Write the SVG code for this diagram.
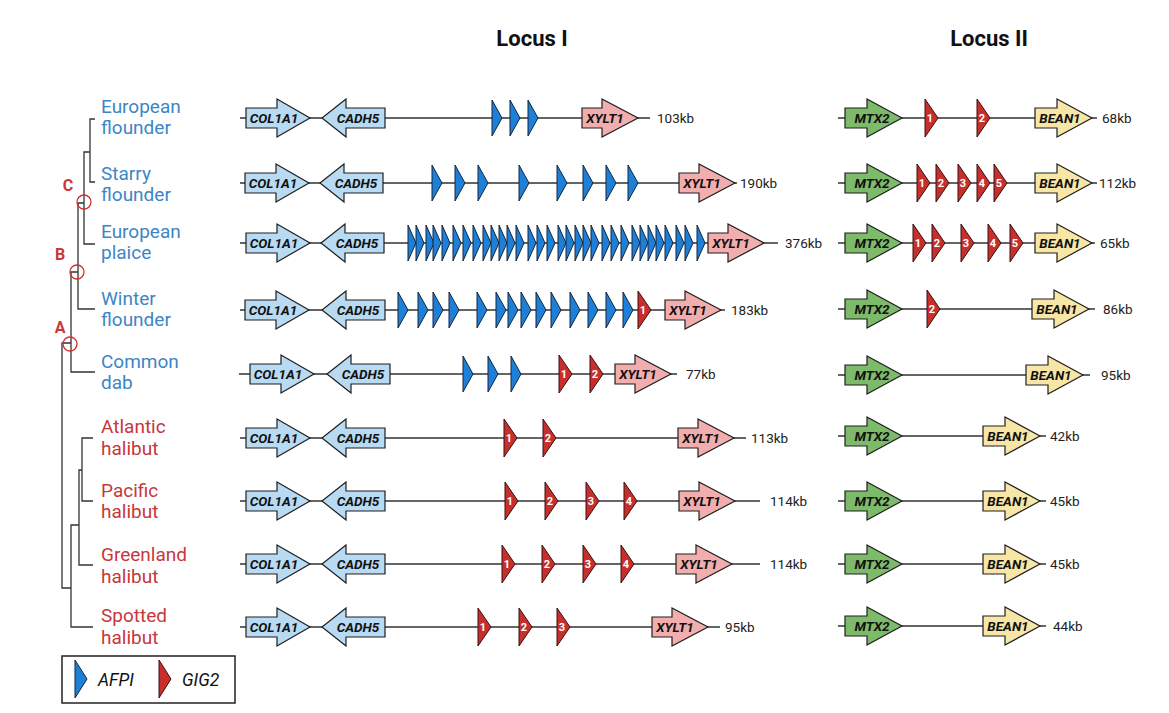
<svg xmlns="http://www.w3.org/2000/svg" xmlns:xlink="http://www.w3.org/1999/xlink" width="1169" height="713" viewBox="0 0 1169 713">
<style>
text{font-family:Roboto,"Liberation Sans",sans-serif}
.title{font-size:22px;font-weight:bold;fill:#111;text-anchor:middle}
.sp{font-size:19px}
.blue{fill:#3d85c6}
.red{fill:#c8373a}
.node{font-size:16px;font-weight:bold;fill:#c8373a;text-anchor:middle}
.tree{stroke:#333;stroke-width:1.3;fill:none}
.circ{stroke:#d03030;stroke-width:1.3;fill:none}
.bb{stroke:#333;stroke-width:1.5;fill:none}
.g{stroke:#1e1e1e;stroke-width:1.2;stroke-linejoin:miter}
.c1{fill:#b8daf2}
.x1{fill:#f2aeae}
.m2{fill:#7dbb6b}
.b1{fill:#f7e6a6}
.gl{font-size:13.5px;font-weight:bold;font-style:italic;fill:#111;text-anchor:middle}
.afp{fill:#1e7fd8;stroke:#14273a;stroke-width:1}
.gig{fill:#c62f2b;stroke:#3a1010;stroke-width:1}
.num{font-size:11px;font-weight:bold;fill:#fff;text-anchor:middle}
.kb{font-size:13.5px;fill:#222}
.leg{font-size:17.5px;font-style:italic;fill:#111}
</style>
<defs>
<path id="col" d="M0,-10 H31 V-19 L64,0 L31,19 V10 H0 Z"/>
<path id="cad" d="M63,-10 H24 V-19 L0,0 L24,19 V10 H63 Z"/>
<path id="xyl" d="M0,-10 H20 V-19 L56,0 L20,19 V10 H0 Z"/>
<path id="rar" d="M0,-10 H22 V-19 L57,0 L22,19 V10 H0 Z"/>
<path id="afp" class="afp" d="M0,-18 L10,0 L0,18 Z"/>
<path id="afn" class="afp" d="M0,-18 L8,0 L0,18 Z"/>
<path id="gig" class="gig" d="M0,-19 L13,0 L0,19 Z"/>
</defs>
<rect width="1169" height="713" fill="#fff"/>
<text class="title" x="532" y="46">Locus I</text>
<text class="title" x="989" y="46">Locus II</text>

<g id="tree">
<path class="tree" d="M95,119 H90 V182 H95 M90,152 H84 V244 H95 M84,203 H78 V309 H95 M78,272 H71 V372 H95 M71,343 H62 V588 H71 M93,438 H82 V501 H93 M82,470 H79 V565 H93 M79,525 H71 V627 H93"/>
<circle class="circ" cx="84" cy="202" r="7"/>
<circle class="circ" cx="77" cy="272" r="7"/>
<circle class="circ" cx="70" cy="344" r="7"/>
<text class="node" x="68" y="191">C</text>
<text class="node" x="60" y="260">B</text>
<text class="node" x="60" y="333">A</text>
</g>

<g id="species">
<g id="sp-european-flounder" class="blue"><text class="sp" x="101" y="113">European</text><text class="sp" x="101" y="134">flounder</text></g>
<g id="sp-starry-flounder" class="blue"><text class="sp" x="101" y="180">Starry</text><text class="sp" x="101" y="201">flounder</text></g>
<g id="sp-european-plaice" class="blue"><text class="sp" x="101" y="238">European</text><text class="sp" x="101" y="259">plaice</text></g>
<g id="sp-winter-flounder" class="blue"><text class="sp" x="101" y="305">Winter</text><text class="sp" x="101" y="326">flounder</text></g>
<g id="sp-common-dab" class="blue"><text class="sp" x="101" y="368">Common</text><text class="sp" x="101" y="389">dab</text></g>
<g id="sp-atlantic-halibut" class="red"><text class="sp" x="101" y="433">Atlantic</text><text class="sp" x="101" y="455">halibut</text></g>
<g id="sp-pacific-halibut" class="red"><text class="sp" x="101" y="497">Pacific</text><text class="sp" x="101" y="518">halibut</text></g>
<g id="sp-greenland-halibut" class="red"><text class="sp" x="101" y="561">Greenland</text><text class="sp" x="101" y="583">halibut</text></g>
<g id="sp-spotted-halibut" class="red"><text class="sp" x="101" y="622">Spotted</text><text class="sp" x="101" y="644">halibut</text></g>
</g>

<g id="connectors">
<path class="bb" d="M240,118 H650 M240,183 H737 M240,243 H778 M240,310 H725 M239,374 H677 M240,438 H746 M240,501 H760 M240,564 H760 M240,627 H720"/>
<path class="bb" d="M838,118 H1097 M838,183 H1097 M838,243 H1095 M838,309 H1095 M838,375 H1090 M838,436 H1046 M838,501 H1046 M838,564 H1046 M838,626 H1046"/>
</g>

<g id="locus1-row1" transform="translate(0,118)">
<use href="#col" x="246" class="g c1"/><text class="gl" x="274" y="5">COL1A1</text>
<use href="#cad" x="322" class="g c1"/><text class="gl" x="358" y="5">CADH5</text>
<use href="#afp" x="492"/><use href="#afp" x="510"/><use href="#afp" x="528"/>
<use href="#xyl" x="582" class="g x1"/><text class="gl" x="605" y="5">XYLT1</text>
<text class="kb" x="657" y="5">103kb</text>
</g>

<g id="locus1-row2" transform="translate(0,183)">
<use href="#col" x="245" class="g c1"/><text class="gl" x="273" y="5">COL1A1</text>
<use href="#cad" x="320" class="g c1"/><text class="gl" x="356" y="5">CADH5</text>
<use href="#afp" x="432"/><use href="#afp" x="455"/><use href="#afp" x="478"/><use href="#afp" x="519"/><use href="#afp" x="557"/><use href="#afp" x="583"/><use href="#afp" x="606"/><use href="#afp" x="628"/>
<use href="#xyl" x="679" class="g x1"/><text class="gl" x="702" y="5">XYLT1</text>
<text class="kb" x="740" y="5">190kb</text>
</g>

<g id="locus1-row3" transform="translate(0,243)">
<use href="#col" x="246" class="g c1"/><text class="gl" x="274" y="5">COL1A1</text>
<use href="#cad" x="321" class="g c1"/><text class="gl" x="357" y="5">CADH5</text>
<use href="#afn" x="408"/><use href="#afn" x="416"/><use href="#afn" x="426"/><use href="#afn" x="433"/><use href="#afn" x="442"/><use href="#afn" x="453"/><use href="#afn" x="463"/><use href="#afn" x="473"/><use href="#afn" x="483"/><use href="#afn" x="491"/><use href="#afn" x="499"/><use href="#afn" x="507"/><use href="#afn" x="516"/><use href="#afn" x="528"/><use href="#afn" x="537"/><use href="#afn" x="547"/><use href="#afn" x="558"/><use href="#afn" x="566"/><use href="#afn" x="575"/><use href="#afn" x="583"/><use href="#afn" x="591"/><use href="#afn" x="602"/><use href="#afn" x="611"/><use href="#afn" x="621"/><use href="#afn" x="632"/><use href="#afn" x="640"/><use href="#afn" x="648"/><use href="#afn" x="656"/><use href="#afn" x="665"/><use href="#afn" x="676"/><use href="#afn" x="685"/><use href="#afn" x="697"/>
<use href="#xyl" x="708" class="g x1"/><text class="gl" x="731" y="5">XYLT1</text>
<text class="kb" x="785" y="5">376kb</text>
</g>

<g id="locus1-row4" transform="translate(0,310)">
<use href="#col" x="245" class="g c1"/><text class="gl" x="273" y="5">COL1A1</text>
<use href="#cad" x="322" class="g c1"/><text class="gl" x="358" y="5">CADH5</text>
<use href="#afp" x="398"/><use href="#afp" x="418"/><use href="#afp" x="433"/><use href="#afp" x="449"/><use href="#afp" x="477"/><use href="#afp" x="496"/><use href="#afp" x="508"/><use href="#afp" x="521"/><use href="#afp" x="536"/><use href="#afp" x="551"/><use href="#afp" x="570"/><use href="#afp" x="588"/><use href="#afp" x="606"/><use href="#afp" x="623"/>
<use href="#gig" x="638"/><text class="num" x="643" y="4">1</text>
<use href="#xyl" x="665" class="g x1"/><text class="gl" x="688" y="5">XYLT1</text>
<text class="kb" x="731" y="5">183kb</text>
</g>

<g id="locus1-row5" transform="translate(0,374)">
<use href="#col" x="250" class="g c1"/><text class="gl" x="278" y="5">COL1A1</text>
<use href="#cad" x="327" class="g c1"/><text class="gl" x="363" y="5">CADH5</text>
<use href="#afp" x="463"/><use href="#afp" x="488"/><use href="#afp" x="511"/>
<use href="#gig" x="559"/><text class="num" x="564" y="4">1</text>
<use href="#gig" x="590"/><text class="num" x="595" y="4">2</text>
<use href="#xyl" x="615" class="g x1"/><text class="gl" x="638" y="5">XYLT1</text>
<text class="kb" x="686" y="5">77kb</text>
</g>

<g id="locus1-row6" transform="translate(0,438)">
<use href="#col" x="246" class="g c1"/><text class="gl" x="274" y="5">COL1A1</text>
<use href="#cad" x="322" class="g c1"/><text class="gl" x="358" y="5">CADH5</text>
<use href="#gig" x="504"/><text class="num" x="509" y="4">1</text>
<use href="#gig" x="543"/><text class="num" x="548" y="4">2</text>
<use href="#xyl" x="678" class="g x1"/><text class="gl" x="701" y="5">XYLT1</text>
<text class="kb" x="751" y="5">113kb</text>
</g>

<g id="locus1-row7" transform="translate(0,501)">
<use href="#col" x="246" class="g c1"/><text class="gl" x="274" y="5">COL1A1</text>
<use href="#cad" x="322" class="g c1"/><text class="gl" x="358" y="5">CADH5</text>
<use href="#gig" x="505"/><text class="num" x="510" y="4">1</text>
<use href="#gig" x="545"/><text class="num" x="550" y="4">2</text>
<use href="#gig" x="586"/><text class="num" x="591" y="4">3</text>
<use href="#gig" x="624"/><text class="num" x="629" y="4">4</text>
<use href="#xyl" x="679" class="g x1"/><text class="gl" x="702" y="5">XYLT1</text>
<text class="kb" x="770" y="5">114kb</text>
</g>

<g id="locus1-row8" transform="translate(0,564)">
<use href="#col" x="246" class="g c1"/><text class="gl" x="274" y="5">COL1A1</text>
<use href="#cad" x="322" class="g c1"/><text class="gl" x="358" y="5">CADH5</text>
<use href="#gig" x="502"/><text class="num" x="507" y="4">1</text>
<use href="#gig" x="542"/><text class="num" x="547" y="4">2</text>
<use href="#gig" x="583"/><text class="num" x="588" y="4">3</text>
<use href="#gig" x="621"/><text class="num" x="626" y="4">4</text>
<use href="#xyl" x="676" class="g x1"/><text class="gl" x="699" y="5">XYLT1</text>
<text class="kb" x="770" y="5">114kb</text>
</g>

<g id="locus1-row9" transform="translate(0,627)">
<use href="#col" x="246" class="g c1"/><text class="gl" x="274" y="5">COL1A1</text>
<use href="#cad" x="322" class="g c1"/><text class="gl" x="358" y="5">CADH5</text>
<use href="#gig" x="478"/><text class="num" x="483" y="4">1</text>
<use href="#gig" x="519"/><text class="num" x="524" y="4">2</text>
<use href="#gig" x="557"/><text class="num" x="562" y="4">3</text>
<use href="#xyl" x="652" class="g x1"/><text class="gl" x="675" y="5">XYLT1</text>
<text class="kb" x="725" y="5">95kb</text>
</g>

<g id="locus2-row1" transform="translate(0,118)">
<use href="#rar" x="845" class="g m2"/><text class="gl" x="872" y="5">MTX2</text>
<use href="#gig" x="925"/><text class="num" x="930" y="4">1</text>
<use href="#gig" x="977"/><text class="num" x="982" y="4">2</text>
<use href="#rar" x="1035" class="g b1"/><text class="gl" x="1060" y="5">BEAN1</text>
<text class="kb" x="1102" y="5">68kb</text>
</g>

<g id="locus2-row2" transform="translate(0,183)">
<use href="#rar" x="845" class="g m2"/><text class="gl" x="872" y="5">MTX2</text>
<use href="#gig" x="917"/><text class="num" x="922" y="4">1</text>
<use href="#gig" x="936"/><text class="num" x="941" y="4">2</text>
<use href="#gig" x="958"/><text class="num" x="963" y="4">3</text>
<use href="#gig" x="977"/><text class="num" x="982" y="4">4</text>
<use href="#gig" x="994"/><text class="num" x="999" y="4">5</text>
<use href="#rar" x="1035" class="g b1"/><text class="gl" x="1060" y="5">BEAN1</text>
<text class="kb" x="1099" y="5">112kb</text>
</g>

<g id="locus2-row3" transform="translate(0,243)">
<use href="#rar" x="845" class="g m2"/><text class="gl" x="872" y="5">MTX2</text>
<use href="#gig" x="913"/><text class="num" x="918" y="4">1</text>
<use href="#gig" x="932"/><text class="num" x="937" y="4">2</text>
<use href="#gig" x="961"/><text class="num" x="966" y="4">3</text>
<use href="#gig" x="988"/><text class="num" x="993" y="4">4</text>
<use href="#gig" x="1010"/><text class="num" x="1015" y="4">5</text>
<use href="#rar" x="1035" class="g b1"/><text class="gl" x="1060" y="5">BEAN1</text>
<text class="kb" x="1100" y="5">65kb</text>
</g>

<g id="locus2-row4" transform="translate(0,309)">
<use href="#rar" x="845" class="g m2"/><text class="gl" x="872" y="5">MTX2</text>
<use href="#gig" x="927"/><text class="num" x="932" y="4">2</text>
<use href="#rar" x="1032" class="g b1"/><text class="gl" x="1057" y="5">BEAN1</text>
<text class="kb" x="1103" y="5">86kb</text>
</g>

<g id="locus2-row5" transform="translate(0,375)">
<use href="#rar" x="845" class="g m2"/><text class="gl" x="872" y="5">MTX2</text>
<use href="#rar" x="1026" class="g b1"/><text class="gl" x="1051" y="5">BEAN1</text>
<text class="kb" x="1101" y="5">95kb</text>
</g>

<g id="locus2-row6" transform="translate(0,436)">
<use href="#rar" x="845" class="g m2"/><text class="gl" x="872" y="5">MTX2</text>
<use href="#rar" x="983" class="g b1"/><text class="gl" x="1008" y="5">BEAN1</text>
<text class="kb" x="1050" y="5">42kb</text>
</g>

<g id="locus2-row7" transform="translate(0,501)">
<use href="#rar" x="845" class="g m2"/><text class="gl" x="872" y="5">MTX2</text>
<use href="#rar" x="983" class="g b1"/><text class="gl" x="1008" y="5">BEAN1</text>
<text class="kb" x="1050" y="5">45kb</text>
</g>

<g id="locus2-row8" transform="translate(0,564)">
<use href="#rar" x="845" class="g m2"/><text class="gl" x="872" y="5">MTX2</text>
<use href="#rar" x="983" class="g b1"/><text class="gl" x="1008" y="5">BEAN1</text>
<text class="kb" x="1050" y="5">45kb</text>
</g>

<g id="locus2-row9" transform="translate(0,626)">
<use href="#rar" x="845" class="g m2"/><text class="gl" x="872" y="5">MTX2</text>
<use href="#rar" x="983" class="g b1"/><text class="gl" x="1008" y="5">BEAN1</text>
<text class="kb" x="1053" y="5">44kb</text>
</g>

<g id="legend">
<rect x="62" y="656" width="173" height="47" fill="#fff" stroke="#222" stroke-width="1.5"/>
<path class="afp" d="M75,660 L87,679 L75,698 Z"/>
<text class="leg" x="98" y="686">AFPI</text>
<path class="gig" d="M159,660 L171,679 L159,698 Z"/>
<text class="leg" x="182" y="686">GIG2</text>
</g>
</svg>
